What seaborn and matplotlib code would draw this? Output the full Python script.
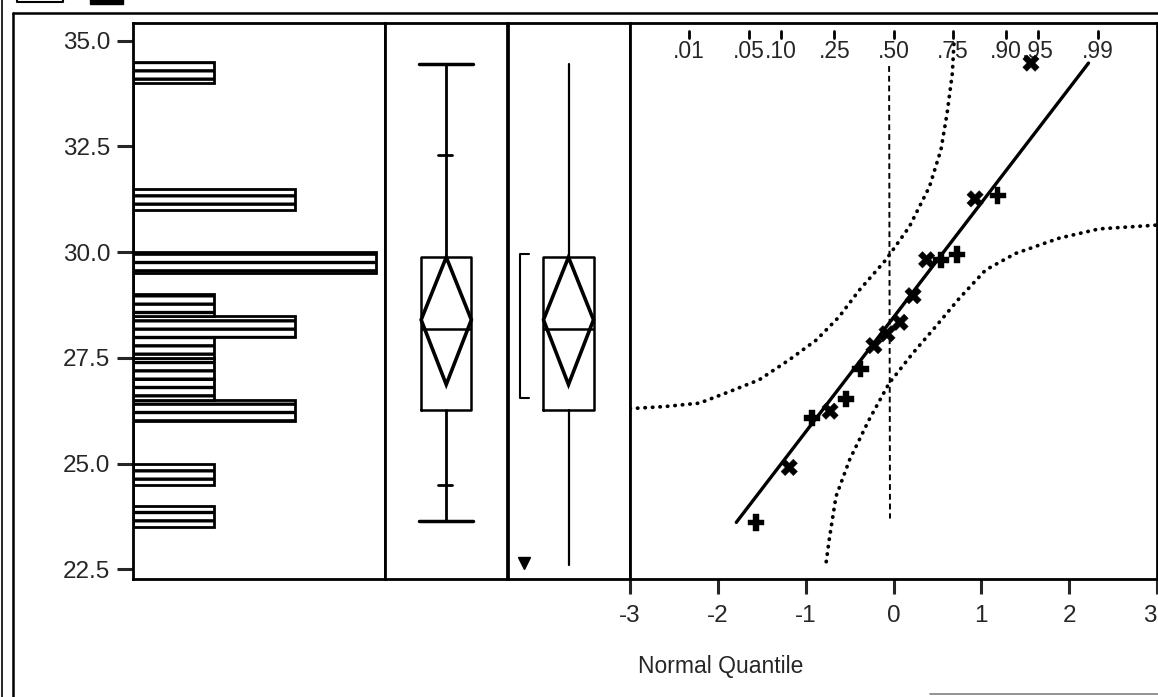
import numpy as np
import pandas as pd
import seaborn as sns
import matplotlib.pyplot as plt
from matplotlib.patches import Polygon, Rectangle

sns.set_style('white')
plt.rcParams['font.family'] = ['Liberation Sans', 'DejaVu Sans']
plt.rcParams['axes.unicode_minus'] = False
plt.rcParams['hatch.linewidth'] = 2.4

#=====================
# Data
#=====================

values = [23.61, 24.91, 26.08, 26.24, 26.53, 27.24, 27.79, 28.07,
          28.34, 28.97, 29.82, 29.82, 29.94, 31.26, 31.34, 34.47]
normal_q = [-1.565, -1.187, -0.929, -0.722, -0.541, -0.377, -0.223, -0.074,
            0.074, 0.223, 0.377, 0.541, 0.722, 0.929, 1.187, 1.565]
point_marker = ['+', 'x', '+', 'x', '+', '+', 'x', 'x',
                'x', 'x', 'x', '+', '+', 'x', '+', 'x']

# outlier box plot
box1_whisk = [23.64, 34.45]
box1_ticks = [24.5, 32.29]
box1_quart = [26.27, 28.19, 29.88]
diamond = [26.87, 28.40, 29.88]

# quantile box plot
box2_whisk = [22.6, 34.45]
shortest_half = [26.55, 29.95]
outlier_mark = 22.64

# normal quantile plot lines
fit_q = [-1.79, 2.22]
fit_v = [23.61, 34.47]
upper_q = [-3.0, -2.6, -2.21, -1.87, -1.53, -1.19, -0.88, -0.62, -0.39,
           -0.09, 0.18, 0.41, 0.54, 0.61, 0.67, 0.69]
upper_v = [26.30, 26.35, 26.43, 26.70, 26.98, 27.45, 27.92, 28.47, 29.10,
           29.81, 30.60, 31.55, 32.42, 33.28, 34.23, 35.02]
lower_q = [-0.766, -0.73, -0.655, -0.50, -0.28, -0.05, 0.22, 0.48, 0.75,
           1.05, 1.39, 1.885, 2.34, 3.0]
lower_v = [22.68, 23.23, 24.22, 25.09, 26.03, 26.90, 27.61, 28.24, 28.91,
           29.58, 29.97, 30.33, 30.55, 30.64]
ref_q = [-0.05, -0.04]
ref_v = [34.40, 23.70]

prob_labels = ['.01', '.05', '.10', '.25', '.50', '.75', '.90', '.95', '.99']
prob_pos = [-2.326, -1.645, -1.282, -0.674, 0.0, 0.674, 1.282, 1.645, 2.326]

yticks = [22.5, 25.0, 27.5, 30.0, 32.5, 35.0]
xticks = [-3, -2, -1, 0, 1, 2, 3]

df = pd.DataFrame({'q': normal_q, 'value': values, 'mark': point_marker})

#=====================
# Layout
#=====================

W, H = 1158, 697
fig = plt.figure(figsize=(W / 100, H / 100), dpi=100)

def px_axes(x0, x1, y0, y1):
    return fig.add_axes([x0 / W, 1 - y1 / H, (x1 - x0) / W, (y1 - y0) / H])

top, bot = 23, 579
ylim = (35 - (bot - 40.7) / 42.29, 35 + (40.7 - top) / 42.29)
lw_sp = 2.0

# background frame
bg = fig.add_axes([0, 0, 1, 1], zorder=-5)
bg.set_xlim(0, W); bg.set_ylim(H, 0); bg.axis('off')
bg.plot([2, 2], [0, H], color='black', lw=1.2)
bg.plot([13, 13], [13, H], color='black', lw=1.8)
bg.plot([13, W], [13, 13], color='black', lw=1.8)
bg.plot([17, 17, 63, 63], [-5, 2, 2, -5], color='black', lw=1.5)
bg.add_patch(Rectangle((90, -2), 33, 6, color='black'))
bg.plot([930, W], [694, 694], color='grey', lw=1.2)

ax_h = px_axes(133, 385, top, bot)
ax_b1 = px_axes(385, 507.5, top, bot)
ax_b2 = px_axes(507.5, 629.5, top, bot)
ax_q = px_axes(630, 1157, top, bot)

for ax in [ax_h, ax_b1, ax_b2, ax_q]:
    ax.set_ylim(*ylim)
    for s in ax.spines.values():
        s.set_linewidth(lw_sp)
        s.set_color('black')

#=====================
# Histogram
#=====================

sns.histplot(y=values, binwidth=0.5, binrange=(23.5, 34.5), ax=ax_h,
             color='white', edgecolor='black', linewidth=2.0, alpha=1)
for p in ax_h.patches:
    p.set_hatch('--')
ax_h.set_xlim(0, 3.11)
ax_h.set_ylim(*ylim)
ax_h.set_xticks([])
ax_h.set_yticks(yticks)
ax_h.set_yticklabels(['%.1f' % t for t in yticks])
ax_h.tick_params(axis='y', direction='out', length=11.5, width=2.2,
                 labelsize=17.5, pad=5, left=True)
ax_h.set_xlabel(''); ax_h.set_ylabel('')

#=====================
# Outlier box plot
#=====================

stats1 = [{'med': box1_quart[1], 'q1': box1_quart[0], 'q3': box1_quart[2],
           'whislo': box1_whisk[0], 'whishi': box1_whisk[1], 'fliers': []}]
ax_b1.bxp(stats1, positions=[0.5], widths=[0.41], capwidths=[0.44],
          showfliers=False, manage_ticks=False,
          boxprops=dict(lw=1.8, color='black'),
          whiskerprops=dict(lw=2.0, color='black'),
          capprops=dict(lw=2.5, color='black'),
          medianprops=dict(lw=1.8, color='black'))
ax_b1.add_patch(Polygon([(0.295, diamond[1]), (0.5, diamond[2]),
                         (0.705, diamond[1]), (0.5, diamond[0])],
                        closed=True, fill=False, lw=2.6, ec='black'))
for t in box1_ticks:
    ax_b1.plot([0.43, 0.55], [t, t], color='black', lw=2.0)
ax_b1.set_xlim(0, 1)
ax_b1.set_xticks([]); ax_b1.set_yticks([])

#=====================
# Quantile box plot
#=====================

stats2 = [{'med': box1_quart[1], 'q1': box1_quart[0], 'q3': box1_quart[2],
           'whislo': box2_whisk[0], 'whishi': box2_whisk[1], 'fliers': []}]
ax_b2.bxp(stats2, positions=[0.5], widths=[0.41], capwidths=[0],
          showfliers=False, showcaps=False, manage_ticks=False,
          boxprops=dict(lw=1.8, color='black'),
          whiskerprops=dict(lw=1.6, color='black'),
          medianprops=dict(lw=1.8, color='black'))
ax_b2.add_patch(Polygon([(0.295, diamond[1]), (0.5, diamond[2]),
                         (0.705, diamond[1]), (0.5, diamond[0])],
                        closed=True, fill=False, lw=2.6, ec='black'))
ax_b2.plot([0.18, 0.10, 0.10, 0.18],
           [shortest_half[0], shortest_half[0], shortest_half[1], shortest_half[1]],
           color='black', lw=1.5)
ax_b2.plot([0.135], [outlier_mark], marker='v', ms=8.5, color='black')
ax_b2.set_xlim(0, 1)
ax_b2.set_xticks([]); ax_b2.set_yticks([])

#=====================
# Normal quantile plot
#=====================

ax_q.plot(upper_q, upper_v, color='black', lw=2.7,
          linestyle=(0, (0.1, 1.9)), dash_capstyle='round')
ax_q.plot(lower_q, lower_v, color='black', lw=2.7,
          linestyle=(0, (0.1, 1.9)), dash_capstyle='round')
ax_q.plot(ref_q, ref_v, color='black', lw=1.4, linestyle=(0, (3, 2)))
sns.lineplot(x=fit_q, y=fit_v, ax=ax_q, color='black', lw=2.4,
             sort=False, estimator=None)
sns.scatterplot(data=df, x='q', y='value', style='mark',
                markers={'+': 'P', 'x': 'X'}, color='black', s=140,
                edgecolor='black', linewidth=0.3, legend=False, ax=ax_q,
                zorder=5)

for lab, pos in zip(prob_labels, prob_pos):
    ax_q.plot([pos, pos], [35.24, 35.06], color='black', lw=2.0)
    ax_q.text(pos, 34.74, lab, ha='center', va='center', fontsize=16.5)

ax_q.set_xlim(-3, 3)
ax_q.set_ylim(*ylim)
ax_q.set_yticks([])
ax_q.set_xticks(xticks)
ax_q.set_xticklabels([str(t) for t in xticks])
ax_q.tick_params(axis='x', direction='out', length=11, width=2.2,
                 labelsize=17.5, pad=8, bottom=True)
ax_q.get_xticklabels()[-1].set_horizontalalignment('right')
ax_q.set_xlabel(''); ax_q.set_ylabel('')

fig.text(638 / W, 1 - 667 / H, 'Normal Quantile', ha='left', va='center',
         fontsize=16.5)

plt.savefig('out.png', dpi=100)
